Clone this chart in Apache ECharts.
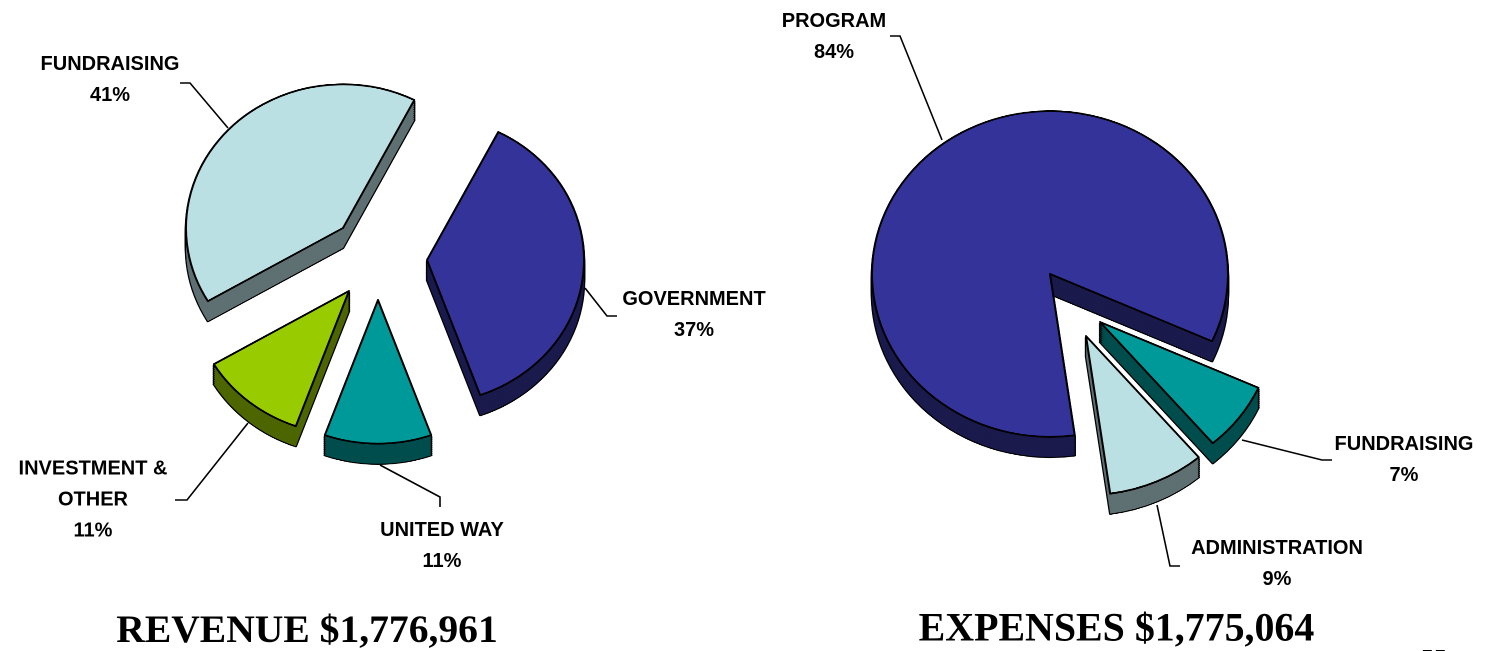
<!DOCTYPE html>
<html><head><meta charset="utf-8">
<style>html,body{margin:0;padding:0;background:#fff;overflow:hidden;width:1487px;height:651px}
#c{position:absolute;left:0;top:0;width:1487px;height:711.5px;transform:scaleY(0.915);transform-origin:0 0}
#t{position:absolute;left:0;top:0;width:1487px;height:651px}</style>
<script src="https://cdn.jsdelivr.net/npm/echarts@6/dist/echarts.min.js"></script>
</head><body><div id="c"></div><div id="t"></div>
<script>
// data
const revenueNames = ['GOVERNMENT','UNITED WAY','INVESTMENT &\nOTHER','FUNDRAISING'];
const revenueValues = [37,11,11,41];
const expenseNames = ['PROGRAM','FUNDRAISING','ADMINISTRATION'];
const expenseValues = [84,7,9];
const revenueTitle = 'REVENUE $1,776,961';
const expenseTitle = 'EXPENSES $1,775,064';
const pageNumber = '55';
// layout and style (picture pixels; the pies are drawn tilted by SY, the 3-D look)
const SY = 0.915;
const revenueColors = [['#333399','#1a1a4d'],['#009999','#004d4d'],['#99cc00','#4d6600'],['#bbe0e3','#5e7072']];
const expenseColors = [['#333399','#1a1a4d'],['#009999','#004d4d'],['#bbe0e3','#5e7072']];
const revenueApex = [[427,260],[378,300],[349,291],[343,228]];
const expenseApex = [[1050,274],[1100,322],[1086,336]];
const revenueRadius = [157,157,157,157];
const expenseRadius = [178,174,174];
const revenueLabels = [[694,315],[442,546],[93,500],[110,80]];
const expenseLabels = [[834,37],[1404,460],[1277,564]];
const revenueLeaders = [[[585,288],[607,316],[617,316]],[[380,465],[440,497],[440,507]],[[248,423],[187,500],[175,500]],[[228,128],[190,83],[180,83]]];
const expenseLeaders = [[[942,140],[900,36],[890,36]],[[1242,440],[1322,460],[1332,460]],[[1157,505],[1170,566],[1180,566]]];
const DEPTH = 20, STEP = 2;

function slices(names, values, colors, apex, radius, startAngle){
  const out = [];
  const layer = (i, dy, fill, bw) => ({
    type:'pie', silent:true, animation:false, clockwise:true, startAngle,
    center:[apex[i][0], (apex[i][1]+dy)/SY], radius:[0,radius[i]],
    label:{show:false}, labelLine:{show:false}, emphasis:{disabled:true},
    data:names.map((n,k)=>({
      name:n, value:values[k],
      itemStyle:k===i?{color:fill,borderColor:'#000',borderWidth:bw,borderJoin:'round'}:{color:'rgba(0,0,0,0)',borderWidth:0}
    }))
  });
  names.forEach((n,i)=>{ for(let d=DEPTH;d>0;d-=STEP) out.push(layer(i,d,'#000',2.5)); });
  names.forEach((n,i)=>{ for(let d=DEPTH;d>0;d-=STEP) out.push(layer(i,d,colors[i][1],0)); });
  names.forEach((n,i)=>out.push(layer(i,0,colors[i][0],2)));
  return out;
}
function annotations(names, values, labels, leaders){
  const out = [];
  names.forEach((n,i)=>{
    out.push({type:'polyline',silent:true,shape:{points:leaders[i]},style:{stroke:'#000',lineWidth:1.6,fill:null}});
    out.push({type:'text',silent:true,x:labels[i][0],y:labels[i][1],style:{
      text:n+'\n'+values[i]+'%',align:'center',verticalAlign:'middle',fill:'#000',
      fontFamily:'"Liberation Sans"',fontWeight:'bold',fontSize:20,lineHeight:31}});
  });
  return out;
}
const chart = echarts.init(document.getElementById('c'),null,{devicePixelRatio:2});
chart.setOption({
  backgroundColor:'#fff',
  series:[
    ...slices(revenueNames,revenueValues,revenueColors,revenueApex,revenueRadius,63),
    ...slices(expenseNames,expenseValues,expenseColors,expenseApex,expenseRadius,278)
  ]
});
const overlay = echarts.init(document.getElementById('t'),null,{devicePixelRatio:2});
overlay.setOption({
  title:[
    {text:revenueTitle,left:302,top:627,textAlign:'center',textVerticalAlign:'middle',textStyle:{fontFamily:'"Liberation Serif"',fontWeight:'bold',fontSize:39.6,color:'#000'}},
    {text:expenseTitle,left:1111.5,top:625,textAlign:'center',textVerticalAlign:'middle',textStyle:{fontFamily:'"Liberation Serif"',fontWeight:'bold',fontSize:39.9,color:'#000'}}
  ],
  graphic:[
    ...annotations(revenueNames,revenueValues,revenueLabels,revenueLeaders),
    ...annotations(expenseNames,expenseValues,expenseLabels,expenseLeaders),
    {type:'text',silent:true,x:1421,y:648,style:{text:pageNumber,font:'bold 26px "Liberation Serif"',fill:'#000'}}
  ]
});
</script></body></html>
